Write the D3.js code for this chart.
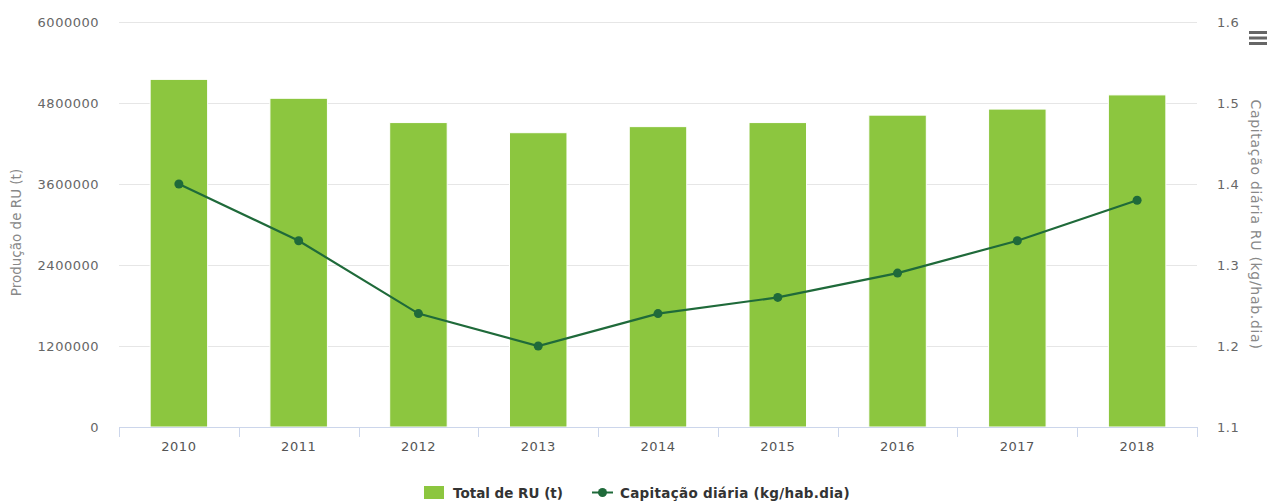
<!DOCTYPE html>
<html>
<head>
<meta charset="utf-8">
<script src="https://cdn.jsdelivr.net/npm/d3@7"></script>
<style>
  body { margin: 0; background: #fff; }
  text { font-family: "DejaVu Sans", Verdana, sans-serif; }
</style>
</head>
<body>
<div id="chart"></div>
<script>
var W = 1267, H = 502;

// data
var years = ['2010','2011','2012','2013','2014','2015','2016','2017','2018'];
var totalRU = [5150000, 4870000, 4510000, 4360000, 4450000, 4510000, 4620000, 4710000, 4920000];
var capitacao = [1.40, 1.33, 1.24, 1.20, 1.24, 1.26, 1.29, 1.33, 1.38];
var leftTicks = [0, 1200000, 2400000, 3600000, 4800000, 6000000];
var rightTicks = [1.1, 1.2, 1.3, 1.4, 1.5, 1.6];

var barColor = '#8cc63f',
    lineColor = '#1f6a3a';

var m = {left: 119, right: 1197, top: 22, bottom: 427};

var svg = d3.select('#chart').append('svg')
  .attr('width', W)
  .attr('height', H);

var x = d3.scaleBand().domain(years).range([m.left, m.right]).padding(0);
var y = d3.scaleLinear().domain([0, 6000000]).range([m.bottom, m.top]);
var y2 = d3.scaleLinear().domain([1.1, 1.6]).range([m.bottom, m.top]);

// gridlines
svg.append('g').selectAll('line')
  .data(leftTicks)
  .enter().append('line')
  .attr('x1', m.left).attr('x2', m.right)
  .attr('y1', function(d) { return y(d) + 0.5; })
  .attr('y2', function(d) { return y(d) + 0.5; })
  .attr('stroke', '#e6e6e6');

// left axis labels
svg.append('g').selectAll('text')
  .data(leftTicks)
  .enter().append('text')
  .attr('x', 99)
  .attr('y', function(d) { return y(d) + 5; })
  .attr('text-anchor', 'end')
  .attr('font-size', '13px')
  .attr('letter-spacing', '0.5px')
  .attr('fill', '#666')
  .text(function(d) { return d; });

// right axis labels
svg.append('g').selectAll('text')
  .data(rightTicks)
  .enter().append('text')
  .attr('x', 1217)
  .attr('y', function(d) { return y2(d) + 5; })
  .attr('font-size', '13px')
  .attr('letter-spacing', '0.5px')
  .attr('fill', '#666')
  .text(function(d) { return d.toFixed(1); });

// axis titles
svg.append('text')
  .attr('transform', 'translate(21,' + ((m.top + m.bottom) / 2 + 8) + ') rotate(-90)')
  .attr('text-anchor', 'middle')
  .attr('font-size', '13.5px')
  .attr('fill', '#888')
  .text('Produção de RU (t)');

svg.append('text')
  .attr('transform', 'translate(1251,' + ((m.top + m.bottom) / 2) + ') rotate(90)')
  .attr('text-anchor', 'middle')
  .attr('font-size', '14px')
  .attr('letter-spacing', '0.7px')
  .attr('fill', '#888')
  .text('Capitação diária RU (kg/hab.dia)');

// bars
var bw = x.bandwidth() * 0.48;
svg.append('g').selectAll('rect')
  .data(totalRU)
  .enter().append('rect')
  .attr('x', function(d, i) { return x(years[i]) + (x.bandwidth() - bw) / 2; })
  .attr('y', function(d) { return y(d); })
  .attr('width', bw)
  .attr('height', function(d) { return y(0) - y(d); })
  .attr('fill', barColor)
  .attr('stroke', '#fff')
  .attr('stroke-width', 1);

// x axis
svg.append('line')
  .attr('x1', m.left).attr('x2', m.right)
  .attr('y1', m.bottom + 0.5).attr('y2', m.bottom + 0.5)
  .attr('stroke', '#ccd6eb');

var bounds = years.map(function(d) { return x(d); }).concat([m.right]);
svg.append('g').selectAll('line')
  .data(bounds)
  .enter().append('line')
  .attr('x1', function(d) { return Math.round(d) + 0.5; })
  .attr('x2', function(d) { return Math.round(d) + 0.5; })
  .attr('y1', m.bottom)
  .attr('y2', m.bottom + 10)
  .attr('stroke', '#ccd6eb');

svg.append('g').selectAll('text')
  .data(years)
  .enter().append('text')
  .attr('x', function(d) { return x(d) + x.bandwidth() / 2; })
  .attr('y', 451)
  .attr('text-anchor', 'middle')
  .attr('font-size', '13px')
  .attr('letter-spacing', '0.5px')
  .attr('fill', '#555')
  .text(function(d) { return d; });

// line series
var line = d3.line()
  .x(function(d, i) { return x(years[i]) + x.bandwidth() / 2; })
  .y(function(d) { return y2(d); });

svg.append('path')
  .datum(capitacao)
  .attr('d', line)
  .attr('fill', 'none')
  .attr('stroke', lineColor)
  .attr('stroke-width', 2.2);

svg.append('g').selectAll('circle')
  .data(capitacao)
  .enter().append('circle')
  .attr('cx', function(d, i) { return x(years[i]) + x.bandwidth() / 2; })
  .attr('cy', function(d) { return y2(d); })
  .attr('r', 4.5)
  .attr('fill', lineColor);

// legend
var lg = svg.append('g').attr('transform', 'translate(424,486)');
lg.append('rect')
  .attr('x', 0).attr('y', 0)
  .attr('width', 20).attr('height', 13)
  .attr('fill', barColor);
lg.append('text')
  .attr('x', 29).attr('y', 12)
  .attr('font-size', '13.5px')
  .attr('font-weight', 'bold')
  .attr('fill', '#333')
  .text('Total de RU (t)');
lg.append('line')
  .attr('x1', 168).attr('x2', 189)
  .attr('y1', 6.5).attr('y2', 6.5)
  .attr('stroke', lineColor)
  .attr('stroke-width', 2);
lg.append('circle')
  .attr('cx', 178.5).attr('cy', 6.5)
  .attr('r', 4.5)
  .attr('fill', lineColor);
lg.append('text')
  .attr('x', 196).attr('y', 12)
  .attr('font-size', '13.5px')
  .attr('font-weight', 'bold')
  .attr('letter-spacing', '0.3px')
  .attr('fill', '#333')
  .text('Capitação diária (kg/hab.dia)');

// menu icon
var menu = svg.append('g').attr('transform', 'translate(1249,31)');
menu.selectAll('rect')
  .data([0, 1, 2])
  .enter().append('rect')
  .attr('x', 0)
  .attr('y', function(d) { return d * 5.5; })
  .attr('width', 18)
  .attr('height', 3)
  .attr('fill', '#666');
</script>
</body>
</html>
